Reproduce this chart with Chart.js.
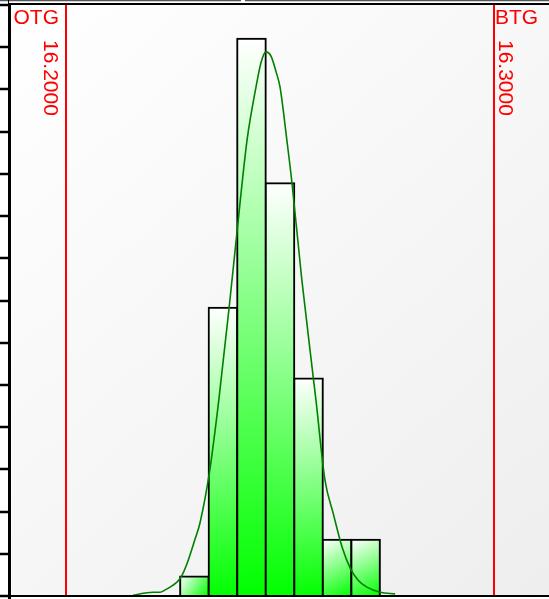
<!DOCTYPE html>
<html>
<head>
<meta charset="utf-8">
<script src="https://cdn.jsdelivr.net/npm/chart.js@4/dist/chart.umd.min.js"></script>
<style>
  html, body { margin: 0; padding: 0; background: #ffffff; }
  #wrap { width: 549px; height: 599px; position: relative; }
</style>
</head>
<body>
<div id="wrap"><canvas id="hist"></canvas></div>
<script>
// histogram bins (centres) and their heights
const binCenters = [16.230000, 16.236667, 16.243333, 16.250000, 16.256667, 16.263333, 16.270000];
const binHeights = [0.46, 6.83, 13.20, 9.78, 5.15, 1.33, 1.33];

// density curve
const curveX = [16.2157, 16.2185, 16.2203, 16.2220, 16.2231, 16.2243, 16.2257, 16.2269,
  16.2285, 16.2301, 16.2313, 16.2336, 16.2357, 16.2381, 16.2400, 16.2423, 16.2444,
  16.2456, 16.2467, 16.2479, 16.2491, 16.2500, 16.2516, 16.2528, 16.2551, 16.2584,
  16.2605, 16.2624, 16.2645, 16.2664, 16.2682, 16.2703, 16.2734, 16.2769];
const curveY = [0.02, 0.07, 0.09, 0.09, 0.14, 0.21, 0.31, 0.45,
  0.83, 1.33, 1.73, 2.99, 4.64, 6.82, 8.67, 10.80, 12.06,
  12.65, 12.89, 12.79, 12.41, 12.06, 10.80, 9.78, 7.49, 4.64,
  2.75, 1.97, 1.16, 0.66, 0.38, 0.21, 0.09, 0.05];

// tolerance limits
const limitValues = [16.2, 16.3];
const limitNames = ['OTG', 'BTG'];
const limitLabels = ['16.2000', '16.3000'];

const X_MIN = 16.18738;
const X_MAX = 16.31285;
const Y_MAX = 14;

function barGradient(context) {
  const chart = context.chart;
  const xs = chart.scales.x;
  const ys = chart.scales.y;
  if (!chart.chartArea || !xs || !ys || context.dataIndex === undefined) {
    return '#80ff80';
  }
  const i = context.dataIndex;
  const half = (binCenters[1] - binCenters[0]) / 2;
  const x0 = xs.getPixelForValue(binCenters[i] - half);
  const x1 = xs.getPixelForValue(binCenters[i] + half);
  const y0 = ys.getPixelForValue(binHeights[i]);
  const y1 = ys.getPixelForValue(0);
  if (![x0, x1, y0, y1].every(Number.isFinite)) return '#80ff80';
  const g = chart.ctx.createLinearGradient(x0, y0, x1, y1);
  g.addColorStop(0, '#ffffff');
  g.addColorStop(1, '#00ff00');
  return g;
}

const framePlugin = {
  id: 'frame',
  beforeDraw(chart) {
    const { ctx, chartArea } = chart;
    ctx.save();
    ctx.fillStyle = '#ffffff';
    ctx.fillRect(0, 0, chart.width, chart.height);
    const g = ctx.createLinearGradient(chartArea.left, chartArea.top, chartArea.right, chartArea.bottom);
    g.addColorStop(0, '#ffffff');
    g.addColorStop(1, '#eeeeee');
    ctx.fillStyle = g;
    ctx.fillRect(chartArea.left, chartArea.top, chartArea.right - chartArea.left, chartArea.bottom - chartArea.top);
    ctx.restore();
  },
  afterDatasetsDraw(chart) {
    const { ctx, chartArea } = chart;
    const xs = chart.scales.x;
    ctx.save();
    ctx.strokeStyle = '#ff0000';
    ctx.fillStyle = '#ff0000';
    ctx.lineWidth = 2;
    ctx.font = '21px "Liberation Sans", Arial, sans-serif';
    limitValues.forEach((v, i) => {
      const px = Math.round(xs.getPixelForValue(v));
      ctx.beginPath();
      ctx.moveTo(px, chartArea.top);
      ctx.lineTo(px, chartArea.bottom);
      ctx.stroke();

      ctx.textBaseline = 'alphabetic';
      if (i === 0) {
        ctx.textAlign = 'right';
        ctx.fillText(limitNames[i], px - 7, 24);
      } else {
        ctx.textAlign = 'left';
        ctx.fillText(limitNames[i], px + 1, 24);
      }

      const bx = i === 0 ? px - 22 : px + 5;
      ctx.save();
      ctx.translate(bx, 40);
      ctx.rotate(Math.PI / 2);
      ctx.textAlign = 'left';
      ctx.fillText(limitLabels[i], 0, 0);
      ctx.restore();
    });
    ctx.restore();
  },
  afterDraw(chart) {
    const { ctx, chartArea } = chart;
    const ys = chart.scales.y;
    ctx.save();
    // outer top edge
    ctx.strokeStyle = '#555555';
    ctx.lineWidth = 1.5;
    ctx.beginPath();
    ctx.moveTo(0, 0.5);
    ctx.lineTo(241, 0.5);
    ctx.moveTo(245, 0.5);
    ctx.lineTo(chart.width, 0.5);
    ctx.stroke();

    ctx.strokeStyle = '#000000';
    ctx.lineWidth = 2;
    ctx.beginPath();
    ctx.moveTo(chartArea.left - 2, chartArea.top - 1);
    ctx.lineTo(chartArea.right, chartArea.top - 1);
    ctx.moveTo(chartArea.left - 2, chartArea.bottom);
    ctx.lineTo(chartArea.right, chartArea.bottom);
    ctx.stroke();

    // left axis
    ctx.lineWidth = 3;
    ctx.beginPath();
    ctx.moveTo(chartArea.left - 2.5, chartArea.top - 2);
    ctx.lineTo(chartArea.left - 2.5, chart.height);
    ctx.stroke();
    ctx.lineWidth = 1;
    ctx.beginPath();
    ctx.moveTo(8.5, 0);
    ctx.lineTo(8.5, chart.height);
    ctx.stroke();

    // tick marks
    ctx.lineWidth = 2.5;
    for (let k = 0; k <= Y_MAX; k++) {
      const py = Math.round(ys.getPixelForValue(k));
      ctx.beginPath();
      ctx.moveTo(0, py);
      ctx.lineTo(chartArea.left - 2, py);
      ctx.stroke();
    }
    ctx.restore();
  }
};

new Chart(document.getElementById('hist'), {
  data: {
    datasets: [
      {
        type: 'line',
        order: 0,
        data: curveX.map((x, i) => ({ x, y: curveY[i] })),
        borderColor: '#008000',
        borderWidth: 1.6,
        pointRadius: 0,
        cubicInterpolationMode: 'monotone',
        fill: false
      },
      {
        type: 'bar',
        order: 1,
        data: binCenters.map((x, i) => ({ x, y: binHeights[i] })),
        backgroundColor: barGradient,
        borderColor: '#000000',
        borderWidth: 2,
        inflateAmount: 1,
        barPercentage: 1,
        categoryPercentage: 1
      }
    ]
  },
  options: {
    responsive: true,
    maintainAspectRatio: false,
    animation: false,
    layout: { padding: { left: 12, top: 5, right: 0, bottom: 3 } },
    plugins: { legend: { display: false }, tooltip: { enabled: false } },
    scales: {
      x: {
        type: 'linear',
        min: X_MIN,
        max: X_MAX,
        offset: false,
        display: false,
        // ticks only at bin centres so bar width equals bin width
        afterBuildTicks: (scale) => {
          scale.ticks = binCenters.map(value => ({ value }));
        }
      },
      y: { min: 0, max: Y_MAX, display: false }
    }
  },
  plugins: [framePlugin]
});
</script>
</body>
</html>
